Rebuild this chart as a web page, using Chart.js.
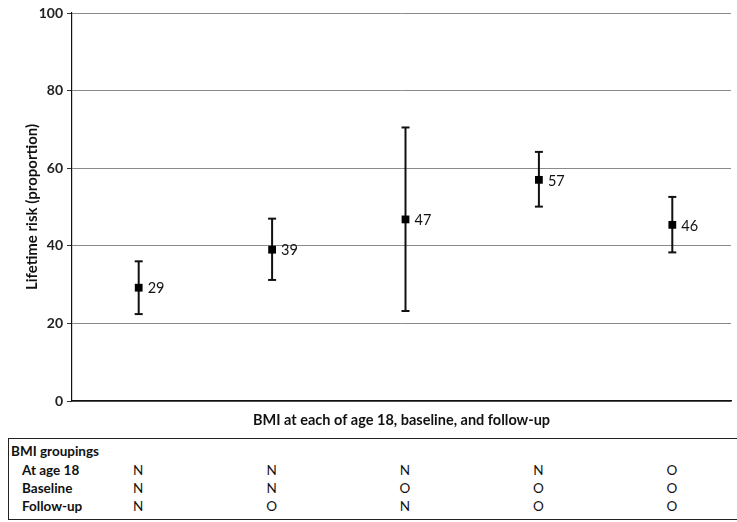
<!DOCTYPE html>
<html>
<head>
<meta charset="utf-8">
<script src="https://cdn.jsdelivr.net/npm/chart.js@4/dist/chart.umd.min.js"></script>
<style>
  html, body { margin: 0; padding: 0; background: #fff; overflow: hidden; }
  body { width: 737px; height: 522px; position: relative; font-family: Lato, "Open Sans", sans-serif; color: #111; }
  #wrap { position: absolute; left: 0; top: 0; width: 737px; height: 435px; }
  #grid-table { position: absolute; left: 8px; top: 438px; width: 740px; height: 80px; border: 1.5px solid #222; }
  #grid-table div { position: absolute; font-size: 13.5px; white-space: nowrap; line-height: 16px; }
  .head { font-weight: bold; left: 2px; top: 4px; }
  .rowname { left: 13px; font-weight: bold; }
  .cell { transform: translateX(-50%); }
</style>
</head>
<body>
<div id="wrap"><canvas id="grafik-risk"></canvas></div>
<div id="grid-table"></div>
<script>
// groups: BMI grouping at age 18 / baseline / follow-up
const categories = ['N-N-N', 'N-N-O', 'N-O-N', 'N-O-O', 'O-O-O'];
const ageAt18 = ['N', 'N', 'N', 'N', 'O'];
const baseline = ['N', 'N', 'O', 'O', 'O'];
const followUp = ['N', 'O', 'N', 'O', 'O'];
const risk = [29.2, 39.0, 46.8, 57.0, 45.4];
const lower = [22.4, 31.2, 23.2, 50.1, 38.3];
const upper = [36.0, 47.0, 70.5, 64.2, 52.6];
const riskLabels = ['29', '39', '47', '57', '46'];
const yTicks = [0, 20, 40, 60, 80, 100];

let errorData = [];
categories.forEach(function (c, i) {
    errorData.push({ x: i + 1, y: lower[i] });
    errorData.push({ x: i + 1, y: upper[i] });
    errorData.push({ x: i + 1, y: null });
});
let pointData = risk.map(function (v, i) { return { x: i + 1, y: v }; });

const valueLabels = {
    id: 'valueLabels',
    afterDatasetsDraw(chart) {
        const ctx = chart.ctx;
        const meta = chart.getDatasetMeta(1);
        ctx.save();
        ctx.font = '14.5px Lato, "Open Sans", sans-serif';
        ctx.fillStyle = '#111';
        ctx.textBaseline = 'middle';
        meta.data.forEach(function (pt, i) {
            ctx.fillText(riskLabels[i], pt.x + 9, pt.y + 1);
        });
        ctx.restore();
    }
};

const ctx = document.getElementById('grafik-risk');
const chart = new Chart(ctx, {
    type: 'line',
    data: {
        datasets: [{
            label: 'CI',
            data: errorData,
            borderColor: '#111',
            borderWidth: 2,
            spanGaps: false,
            pointStyle: 'line',
            pointRadius: 4,
            pointBorderWidth: 2,
            pointBorderColor: '#111',
            order: 2
        }, {
            label: 'Lifetime risk',
            type: 'scatter',
            data: pointData,
            pointStyle: 'rect',
            pointRadius: 5.5,
            backgroundColor: '#000',
            borderColor: '#000',
            borderWidth: 0,
            order: 1
        }]
    },
    options: {
        responsive: true,
        maintainAspectRatio: false,
        animation: false,
        layout: { padding: { top: 13, right: 0, left: 0, bottom: 0 } },
        plugins: { legend: { display: false }, tooltip: { enabled: false } },
        scales: {
            x: {
                type: 'linear',
                min: 0.5,
                max: 5.44,
                ticks: { display: false },
                grid: { display: false },
                border: { color: '#111', width: 1.5 },
                title: {
                    display: true,
                    text: 'BMI at each of age 18, baseline, and follow-up',
                    font: { family: 'Lato', size: 14.5, weight: 'bold' },
                    color: '#111',
                    padding: { top: 0, bottom: 6 }
                },
                afterFit: function (scale) { scale.height = 34; }
            },
            y: {
                min: 0,
                max: 100,
                afterBuildTicks: function (scale) {
                    scale.ticks = yTicks.map(function (v) { return { value: v }; });
                },
                ticks: {
                    font: { family: 'Lato', size: 14, weight: 'bold' },
                    color: '#222',
                    padding: 4
                },
                grid: { color: '#8a8a8a', tickColor: '#333', tickLength: 5, lineWidth: 1 },
                border: { color: '#111', width: 1.2 },
                title: {
                    display: true,
                    text: 'Lifetime risk (proportion)',
                    font: { family: 'Lato', size: 15, weight: 'bold' },
                    color: '#111',
                    padding: { top: 23, bottom: 4 }
                },
                afterFit: function (scale) { scale.width = 72; }
            }
        }
    },
    plugins: [valueLabels]
});

// grouping table under the chart, columns aligned with the x scale
const table = document.getElementById('grid-table');
const rows = [['At age 18', ageAt18], ['Baseline', baseline], ['Follow-up', followUp]];
let head = document.createElement('div');
head.className = 'head';
head.textContent = 'BMI groupings';
table.appendChild(head);
rows.forEach(function (r, ri) {
    let top = 23 + ri * 18;
    let name = document.createElement('div');
    name.className = 'rowname';
    name.style.top = top + 'px';
    name.textContent = r[0];
    table.appendChild(name);
    r[1].forEach(function (v, i) {
        let cell = document.createElement('div');
        cell.className = 'cell';
        cell.style.top = top + 'px';
        cell.style.left = (chart.scales.x.getPixelForValue(i + 1) - 9.5) + 'px';
        cell.textContent = v;
        table.appendChild(cell);
    });
});
</script>
</body>
</html>
